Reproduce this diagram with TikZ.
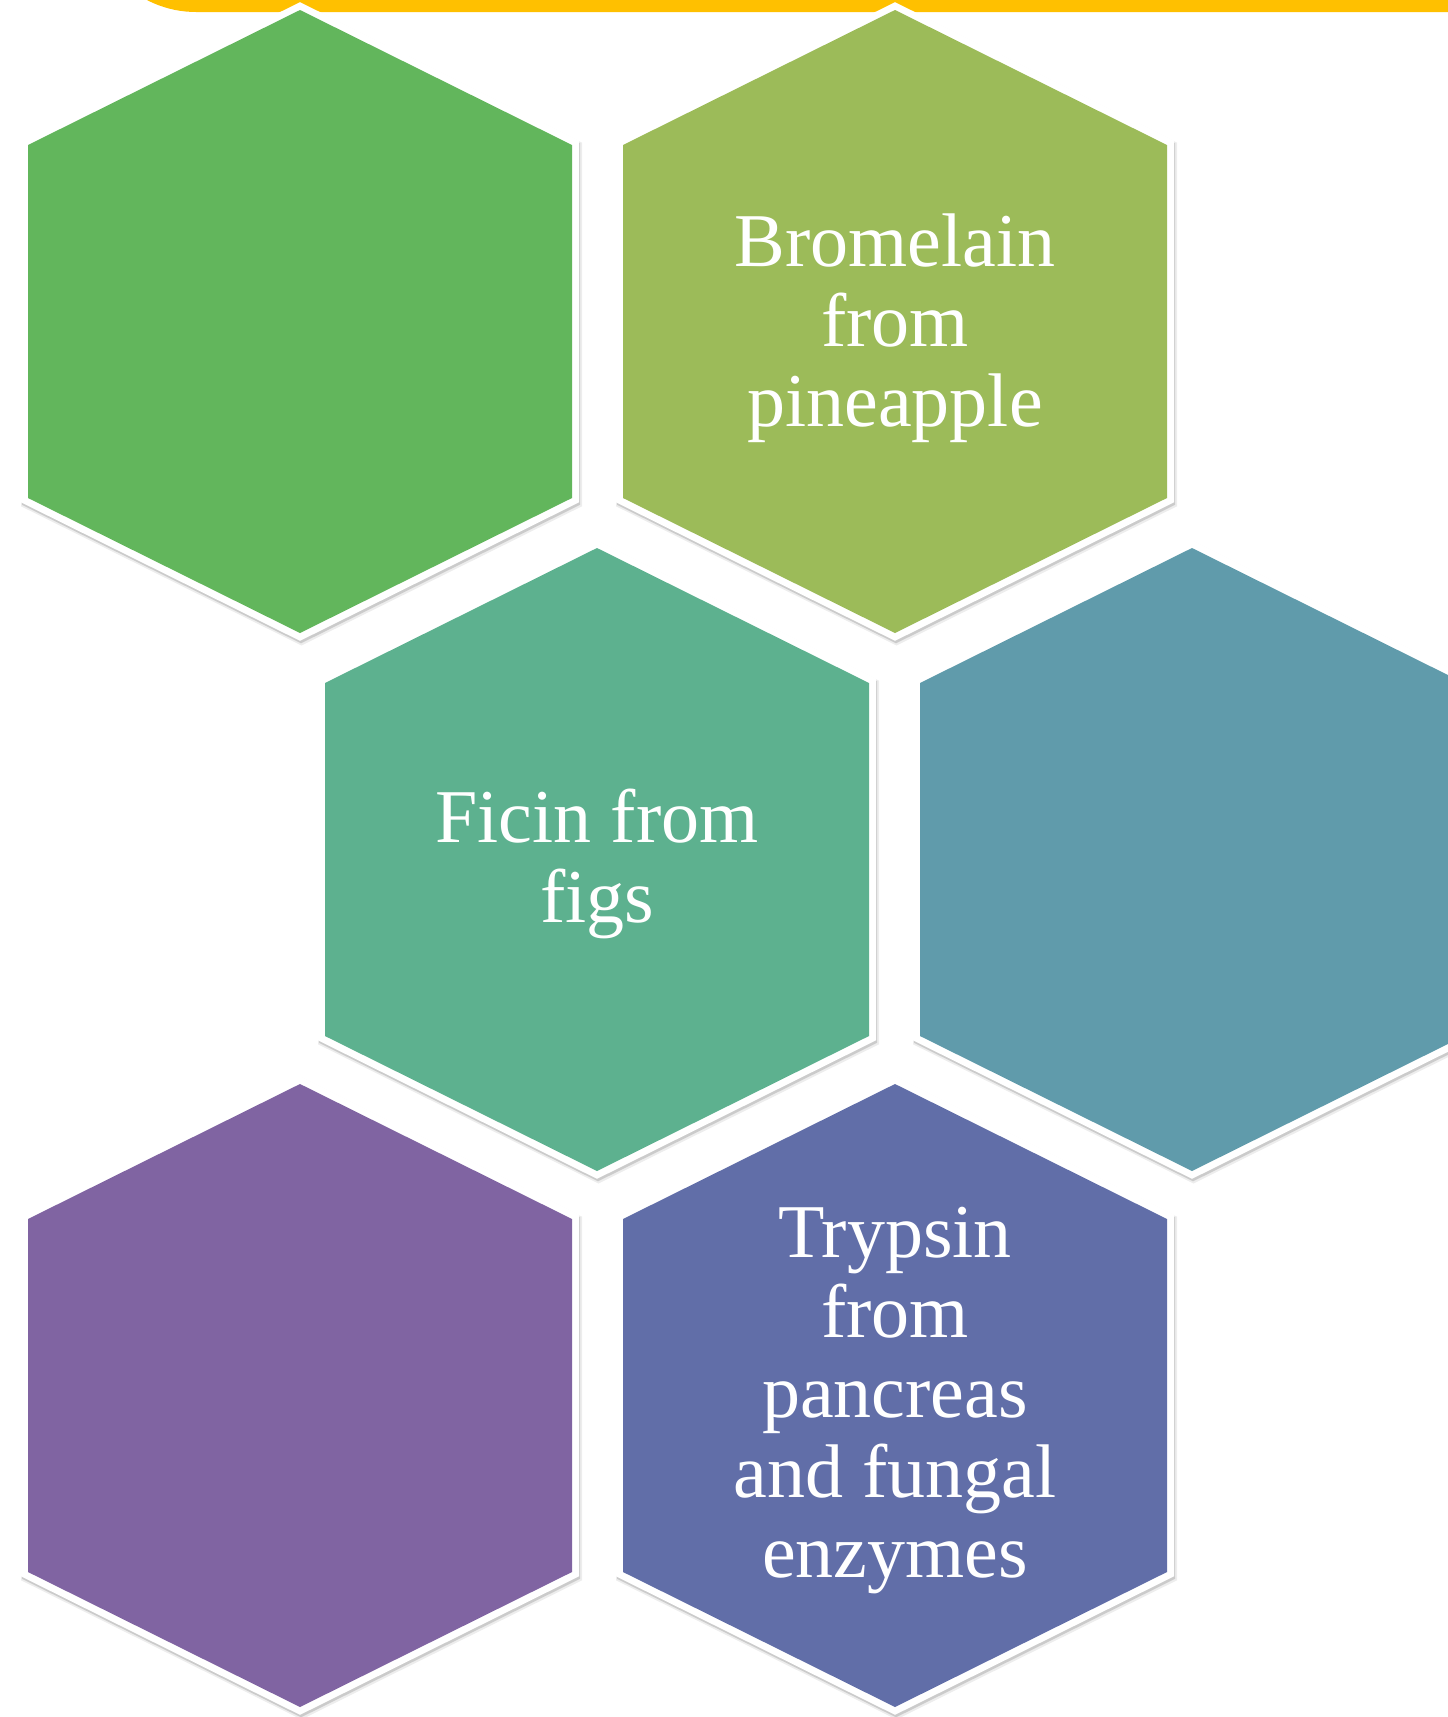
\documentclass[tikz,border=0pt]{standalone}
\usepackage{fontspec}
\setmainfont{Liberation Serif}
\definecolor{barfill}{HTML}{FFC000}
\definecolor{hexA}{HTML}{62B65C}
\definecolor{hexB}{HTML}{9CBB59}
\definecolor{hexC}{HTML}{5DB18F}
\definecolor{hexD}{HTML}{609BAB}
\definecolor{hexE}{HTML}{8064A2}
\definecolor{hexF}{HTML}{616EA8}
\begin{document}
\begin{tikzpicture}[x=1pt,y=-1pt,
  hexcell/.style={line join=round,
    preaction={draw=black,opacity=0.07,line width=17pt,transform canvas={shift={(1.5pt,-3pt)}}},
    preaction={draw=black,opacity=0.14,line width=14pt,transform canvas={shift={(1pt,-2.5pt)}}},
    preaction={draw=white,line width=14pt}},
  hextext/.style={text=white,align=center,font=\fontsize{76}{80}\selectfont,inner sep=0pt}]
\useasboundingbox (0,0) rectangle (1448,1717);
\fill[white] (0,0) rectangle (1448,1717);
\clip (0,0) rectangle (1448,1717);
% top bar
\fill[barfill,rounded corners=106] (90,-220) rectangle (1600,12);
% cells, row by row
\path[hexcell,fill=hexA] (300,10) -- ++(272,135) -- ++(0,353) -- ++(-272,135) -- ++(-272,-135) -- ++(0,-353) -- cycle;
\path[hexcell,fill=hexB] (895,10) -- ++(272,135) -- ++(0,353) -- ++(-272,135) -- ++(-272,-135) -- ++(0,-353) -- cycle;
\path[hexcell,fill=hexC] (597,548) -- ++(272,135) -- ++(0,353) -- ++(-272,135) -- ++(-272,-135) -- ++(0,-353) -- cycle;
\path[hexcell,fill=hexD] (1192,548) -- ++(272,135) -- ++(0,353) -- ++(-272,135) -- ++(-272,-135) -- ++(0,-353) -- cycle;
\path[hexcell,fill=hexE] (300,1084) -- ++(272,135) -- ++(0,353) -- ++(-272,135) -- ++(-272,-135) -- ++(0,-353) -- cycle;
\path[hexcell,fill=hexF] (895,1084) -- ++(272,135) -- ++(0,353) -- ++(-272,135) -- ++(-272,-135) -- ++(0,-353) -- cycle;
% labels
\node[hextext] (bromelain) at (895,328) {Bromelain\\from\\pineapple};
\node[hextext] (ficin) at (597,864) {Ficin from\\figs};
\node[hextext] (trypsin) at (895,1401) {Trypsin\\from\\pancreas\\and fungal\\enzymes};
\end{tikzpicture}
\end{document}
